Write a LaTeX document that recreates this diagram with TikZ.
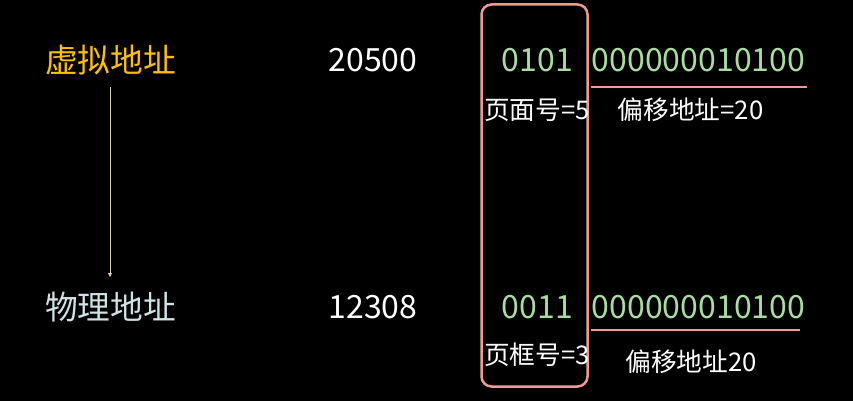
\documentclass[tikz,border=0pt]{standalone}
\usepackage{fontspec}
\setmainfont{Noto Sans CJK SC}
\usetikzlibrary{arrows.meta}
\definecolor{gold}{HTML}{FFC000}
\definecolor{phys}{HTML}{CFE3E6}
\definecolor{bits}{HTML}{A8DCA0}
\definecolor{pinkline}{HTML}{F09A92}
\definecolor{arrowc}{HTML}{D8CFB0}
\begin{document}
\begin{tikzpicture}[x=1pt,y=-1pt,
  big/.style={inner sep=0pt,font=\fontsize{32}{34}\selectfont},
  bigcn/.style={inner sep=0pt,font=\fontsize{32.7}{34}\selectfont},
  small/.style={inner sep=0pt,font=\fontsize{25.7}{28}\selectfont,text=white},
  pinkstroke/.style={draw=pinkline,line width=2.5pt}]
\fill[black] (0,0) rectangle (853,401);
\useasboundingbox (0,0) rectangle (853,401);
% left labels
\node[bigcn,text=gold] (va) at (110.5,60) {虚拟地址};
\node[bigcn,text=phys] (pa) at (110.5,307) {物理地址};
\coordinate (as) at (110,87);
\coordinate (ae) at (110,277);
\draw[arrowc,line width=0.8pt,-{Triangle[length=4pt,width=4pt]}] (as) -- (ae);
% decimal values
\node[big,text=white] (d1) at (373,60) {20500};
\node[big,text=white] (d2) at (373,307) {12308};
% page box
\node[pinkstroke,rounded corners=10pt,minimum width=106pt,minimum height=382pt,inner sep=0pt] (box) at (534.5,195.5) {};
% bits
\node[big,text=bits] (p1) at (537.5,60) {0101};
\node[big,text=bits] (o1) at (698.5,60) {000000010100};
\node[big,text=bits] (p2) at (537.5,307) {0011};
\node[big,text=bits] (o2) at (698.5,307) {000000010100};
\coordinate (l1a) at (591,87);
\coordinate (l1b) at (807,87);
\coordinate (l2a) at (591,330);
\coordinate (l2b) at (800,330);
\draw[pinkline,line width=1.5pt] (l1a) -- (l1b);
\draw[pinkline,line width=1.5pt] (l2a) -- (l2b);
% small labels
\node[small] (n1) at (537,110) {页面号=5};
\node[small] (n2) at (690.5,110) {偏移地址=20};
\node[small] (n3) at (537,355) {页框号=3};
\node[small] (n4) at (691,362) {偏移地址20};
\end{tikzpicture}
\end{document}
